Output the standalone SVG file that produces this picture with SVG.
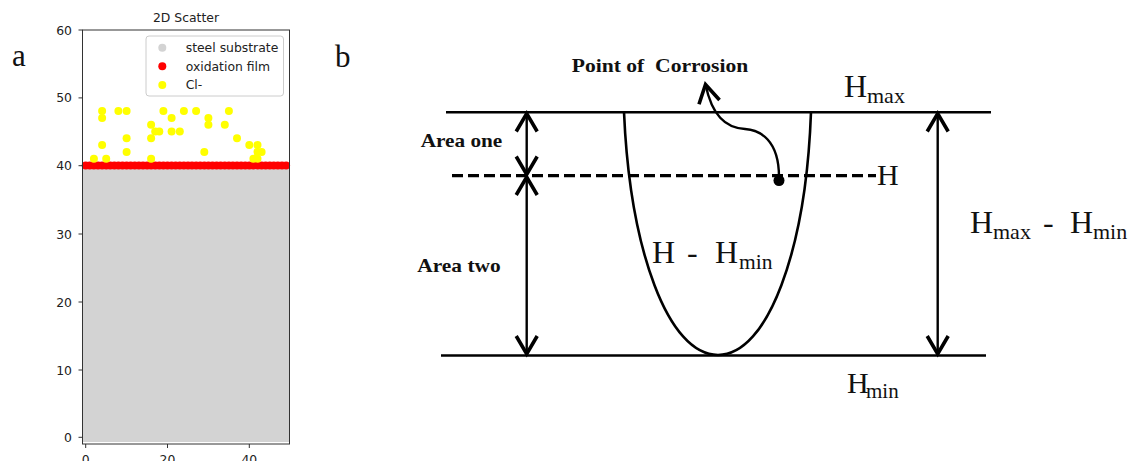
<svg xmlns="http://www.w3.org/2000/svg" width="1129" height="461" viewBox="0 0 1129 461">
<defs>
<style>
.tick{font-family:"DejaVu Sans",sans-serif;font-size:12.4px;fill:#222}
.leg{font-family:"DejaVu Sans",sans-serif;font-size:12.4px;fill:#222}
.serif{font-family:"Liberation Serif","Times New Roman",serif;fill:#111}
.bold{font-family:"Liberation Serif","Times New Roman",serif;font-weight:bold;fill:#111}
.ln{stroke:#000;stroke-width:2.6;fill:none}
.arr{stroke:#000;stroke-width:2.4;fill:none;marker-start:url(#ah);marker-end:url(#ah)}
.y{fill:#ffff00}
.r{fill:#ff0000}
.tk{stroke:#333;stroke-width:1}
</style>
<marker id="ah" markerUnits="userSpaceOnUse" markerWidth="30" markerHeight="30" viewBox="-15 -10 20 20" refX="0" refY="0" orient="auto-start-reverse">
<path d="M-12,-7 L0,0 L-12,7" fill="none" stroke="#000" stroke-width="2.4" stroke-linejoin="miter"/>
</marker>
</defs>
<rect width="1129" height="461" fill="#fff"/>

<g id="panel-a">
<text x="12" y="66" class="serif" font-size="31">a</text>
<text x="186" y="22" class="tick" text-anchor="middle">2D Scatter</text>
<rect x="82.5" y="165" width="207" height="277" fill="#d3d3d3"/>
<g id="oxidation">
<g class="r">
<circle cx="85.7" cy="165.5" r="4"/><circle cx="89.8" cy="165.5" r="4"/><circle cx="93.9" cy="165.5" r="4"/><circle cx="98" cy="165.5" r="4"/><circle cx="102.1" cy="165.5" r="4"/><circle cx="106.2" cy="165.5" r="4"/><circle cx="110.2" cy="165.5" r="4"/><circle cx="114.3" cy="165.5" r="4"/><circle cx="118.4" cy="165.5" r="4"/><circle cx="122.5" cy="165.5" r="4"/>
<circle cx="126.6" cy="165.5" r="4"/><circle cx="130.7" cy="165.5" r="4"/><circle cx="134.8" cy="165.5" r="4"/><circle cx="138.9" cy="165.5" r="4"/><circle cx="143" cy="165.5" r="4"/><circle cx="147.1" cy="165.5" r="4"/><circle cx="151.1" cy="165.5" r="4"/><circle cx="155.2" cy="165.5" r="4"/><circle cx="159.3" cy="165.5" r="4"/><circle cx="163.4" cy="165.5" r="4"/>
<circle cx="167.5" cy="165.5" r="4"/><circle cx="171.6" cy="165.5" r="4"/><circle cx="175.7" cy="165.5" r="4"/><circle cx="179.8" cy="165.5" r="4"/><circle cx="183.9" cy="165.5" r="4"/><circle cx="188" cy="165.5" r="4"/><circle cx="192" cy="165.5" r="4"/><circle cx="196.1" cy="165.5" r="4"/><circle cx="200.2" cy="165.5" r="4"/><circle cx="204.3" cy="165.5" r="4"/>
<circle cx="208.4" cy="165.5" r="4"/><circle cx="212.5" cy="165.5" r="4"/><circle cx="216.6" cy="165.5" r="4"/><circle cx="220.7" cy="165.5" r="4"/><circle cx="224.8" cy="165.5" r="4"/><circle cx="228.9" cy="165.5" r="4"/><circle cx="232.9" cy="165.5" r="4"/><circle cx="237" cy="165.5" r="4"/><circle cx="241.1" cy="165.5" r="4"/><circle cx="245.2" cy="165.5" r="4"/>
<circle cx="249.3" cy="165.5" r="4"/><circle cx="253.4" cy="165.5" r="4"/><circle cx="257.5" cy="165.5" r="4"/><circle cx="261.6" cy="165.5" r="4"/><circle cx="265.7" cy="165.5" r="4"/><circle cx="269.8" cy="165.5" r="4"/><circle cx="273.8" cy="165.5" r="4"/><circle cx="277.9" cy="165.5" r="4"/><circle cx="282" cy="165.5" r="4"/><circle cx="286.1" cy="165.5" r="4"/>
</g>
</g>
<g id="chloride" class="y">
<circle cx="93.9" cy="158.7" r="4"/>
<circle cx="102.1" cy="111.1" r="4"/><circle cx="102.1" cy="117.9" r="4"/><circle cx="102.1" cy="145.1" r="4"/>
<circle cx="106.2" cy="158.7" r="4"/>
<circle cx="118.4" cy="111.1" r="4"/>
<circle cx="126.6" cy="111.1" r="4"/><circle cx="126.6" cy="138.3" r="4"/><circle cx="126.6" cy="151.9" r="4"/>
<circle cx="151.1" cy="124.7" r="4"/><circle cx="151.1" cy="138.3" r="4"/><circle cx="151.1" cy="158.7" r="4"/>
<circle cx="155.2" cy="131.5" r="4"/><circle cx="159.3" cy="131.5" r="4"/>
<circle cx="163.4" cy="111.1" r="4"/>
<circle cx="171.6" cy="117.9" r="4"/><circle cx="171.6" cy="131.5" r="4"/>
<circle cx="179.8" cy="131.5" r="4"/>
<circle cx="183.9" cy="111.1" r="4"/>
<circle cx="196.1" cy="111.1" r="4"/>
<circle cx="204.3" cy="151.9" r="4"/>
<circle cx="208.4" cy="117.9" r="4"/><circle cx="208.4" cy="124.7" r="4"/>
<circle cx="224.8" cy="124.7" r="4"/>
<circle cx="228.9" cy="111.1" r="4"/>
<circle cx="237" cy="138.3" r="4"/>
<circle cx="249.3" cy="145.1" r="4"/>
<circle cx="253.4" cy="158.7" r="4"/>
<circle cx="257.5" cy="145.1" r="4"/><circle cx="257.5" cy="151.9" r="4"/><circle cx="257.5" cy="158.7" r="4"/>
<circle cx="261.6" cy="151.9" r="4"/>
</g>
<rect x="82.5" y="30" width="207" height="414" fill="none" stroke="#333" stroke-width="1"/>
<g id="yticks">
<line class="tk" x1="78.5" y1="30" x2="82.5" y2="30"/><text class="tick" x="72" y="34.5" text-anchor="end">60</text>
<line class="tk" x1="78.5" y1="97.9" x2="82.5" y2="97.9"/><text class="tick" x="72" y="102.4" text-anchor="end">50</text>
<line class="tk" x1="78.5" y1="165.7" x2="82.5" y2="165.7"/><text class="tick" x="72" y="170.2" text-anchor="end">40</text>
<line class="tk" x1="78.5" y1="234" x2="82.5" y2="234"/><text class="tick" x="72" y="238.5" text-anchor="end">30</text>
<line class="tk" x1="78.5" y1="302" x2="82.5" y2="302"/><text class="tick" x="72" y="306.5" text-anchor="end">20</text>
<line class="tk" x1="78.5" y1="370" x2="82.5" y2="370"/><text class="tick" x="72" y="374.5" text-anchor="end">10</text>
<line class="tk" x1="78.5" y1="437.3" x2="82.5" y2="437.3"/><text class="tick" x="72" y="441.8" text-anchor="end">0</text>
</g>
<g id="xticks">
<line class="tk" x1="85.7" y1="444" x2="85.7" y2="448"/><text class="tick" x="85.7" y="464" text-anchor="middle">0</text>
<line class="tk" x1="167.5" y1="444" x2="167.5" y2="448"/><text class="tick" x="167.5" y="464" text-anchor="middle">20</text>
<line class="tk" x1="249.3" y1="444" x2="249.3" y2="448"/><text class="tick" x="249.3" y="464" text-anchor="middle">40</text>
</g>
<g id="legend">
<rect x="146" y="36" width="137.5" height="60" rx="3" fill="#fff" fill-opacity="0.85" stroke="#ccc" stroke-width="1"/>
<circle cx="162.3" cy="47.7" r="4" fill="#d3d3d3"/><text class="leg" x="185.7" y="52">steel substrate</text>
<circle cx="162.3" cy="66.3" r="4" class="r"/><text class="leg" x="185.7" y="70.6">oxidation film</text>
<circle cx="162.3" cy="85" r="4" class="y"/><text class="leg" x="185.7" y="89.3">Cl-</text>
</g>
</g>

<g id="panel-b">
<text x="335" y="67" class="serif" font-size="31">b</text>
<g id="lines">
<line class="ln" x1="446" y1="112.3" x2="991" y2="112.3"/>
<line class="ln" x1="441" y1="355.5" x2="986" y2="355.5"/>
<line x1="452" y1="175.7" x2="876" y2="175.7" stroke="#000" stroke-width="3.2" stroke-dasharray="11,5"/>
<path id="pit" class="ln" d="M624,112 C630,250 668,355 718,355 C768,355 806,250 811,112"/>
</g>
<g id="connectors">
<line class="arr" x1="526.7" y1="113.5" x2="526.7" y2="174.5"/>
<line class="arr" x1="526.7" y1="177" x2="526.7" y2="354"/>
<line class="arr" x1="937.7" y1="113.5" x2="937.7" y2="354"/>
<path d="M779,177 C779,140 760,130 745,129 C725,128 712,115 705.5,84.5" fill="none" stroke="#000" stroke-width="2.4" marker-end="url(#ah)"/>
<circle cx="779" cy="180.5" r="5.5" fill="#000"/>
</g>
<g id="labels">
<text class="bold" x="571.7" y="71.7" font-size="19" textLength="176.6" lengthAdjust="spacingAndGlyphs" xml:space="preserve">Point of  Corrosion</text>
<text class="bold" x="420.7" y="147.3" font-size="19.5" textLength="81.6" lengthAdjust="spacingAndGlyphs">Area one</text>
<text class="bold" x="417.3" y="271.7" font-size="19.5" textLength="83.4" lengthAdjust="spacingAndGlyphs">Area two</text>
<text class="serif" font-size="32"><tspan x="652" y="263.3">H</tspan><tspan x="687" y="263.3">-</tspan><tspan x="715" y="263.3">H</tspan><tspan x="739" y="269.3" font-size="21.5">min</tspan></text>
<text class="serif" font-size="32"><tspan x="844" y="96.7">H</tspan><tspan x="867" y="103.3" font-size="22">max</tspan></text>
<text class="serif" x="877" y="185" font-size="30">H</text>
<text class="serif" font-size="32"><tspan x="970" y="233.3">H</tspan><tspan x="993" y="239.3" font-size="22">max</tspan><tspan x="1043" y="233.3">-</tspan><tspan x="1070" y="233.3">H</tspan><tspan x="1093" y="239.3" font-size="22">min</tspan></text>
<text class="serif" font-size="30"><tspan x="847" y="393.3">H</tspan><tspan x="866" y="398.3" font-size="21">min</tspan></text>
</g>
</g>
</svg>
